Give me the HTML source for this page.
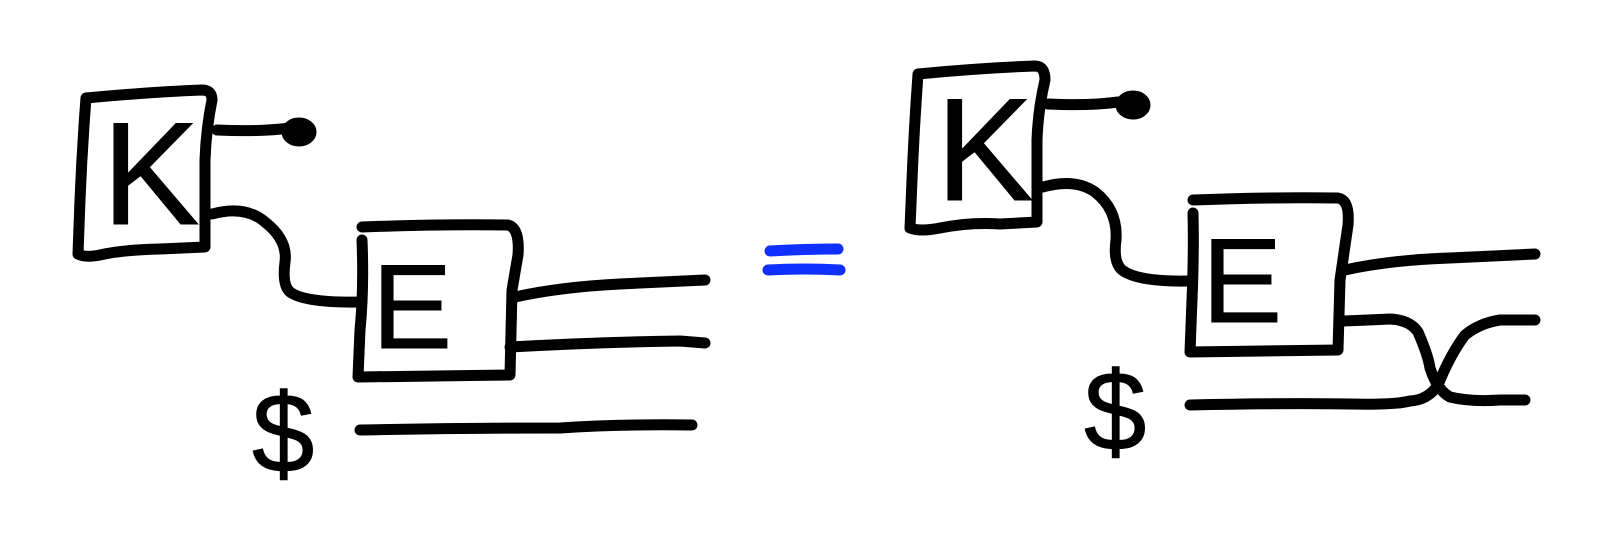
<!DOCTYPE html>
<html><head><meta charset="utf-8"><style>
html,body{margin:0;padding:0;background:#fff;}
svg{display:block;}
text{font-family:"Liberation Sans",sans-serif;fill:#000;stroke:#000;stroke-width:1;}
</style></head><body>
<svg width="1604" height="553" viewBox="0 0 1604 553">
<g fill="none" stroke="#000" stroke-width="11" stroke-linecap="round" stroke-linejoin="round">
<g>
  <path d="M86,98 Q82,150 80,200 L78,254 Q85,258 100,255 Q120,250 160,249 L205,247 L205,160 Q206,130 212,100 Q212,90 202,90 Q150,92 86,98"/>
  <path d="M217,130 Q260,132 290,128"/>
  <ellipse cx="299" cy="132" rx="12" ry="9" fill="#000"/>
  <path d="M212,214 Q245,205 265,222 Q288,240 285,262 Q282,285 290,292 Q305,303 360,302"/>
  <path d="M362,227 Q440,224 508,225 Q520,228 518,255 L512,290 L510,375 L358,377 L360,330 Q364,290 362,240"/>
  <path d="M515,297 Q560,287 620,284 L705,280"/>
  <path d="M510,347 Q600,342 680,341 L705,343"/>
  <path d="M360,430 Q460,428 560,428 Q620,424 692,425"/>
</g>
<g stroke="#1030ff">
  <path d="M770,251 Q805,249 838,249"/>
  <path d="M768,270 Q805,268 840,270"/>
</g>
<g>
  <path d="M918,74 Q914,130 912,180 L910,228 Q920,232 940,228 Q970,222 1000,224 L1037,222 L1037,140 Q1038,110 1045,80 Q1045,66 1035,66 Q980,68 918,74"/>
  <path d="M1048,104 Q1090,106 1118,102"/>
  <ellipse cx="1133" cy="105" rx="12" ry="9" fill="#000"/>
  <path d="M1043,187 Q1075,178 1095,192 Q1118,210 1116,240 Q1113,262 1122,270 Q1138,282 1188,281"/>
  <path d="M1193,200 Q1270,197 1338,198 Q1350,200 1348,225 L1340,280 L1338,350 L1190,352 L1192,300 Q1194,250 1193,213"/>
  <path d="M1345,270 Q1390,260 1450,258 L1535,254"/>
  <path d="M1343,321 Q1370,320 1390,319 Q1410,320 1418,332 Q1428,355 1430,368 Q1437,390 1450,397 Q1470,402 1500,400 L1525,400"/>
  <path d="M1190,405 Q1280,403 1350,404 Q1395,405 1410,401 Q1428,400 1438,385 Q1450,355 1465,335 Q1480,323 1500,320 L1535,320"/>
</g>
</g>
<text x="102" y="224" font-size="146">K</text>
<text x="372" y="348" font-size="120">E</text>
<text x="252" y="472" font-size="112">$</text>
<text x="936" y="200" font-size="146">K</text>
<text x="1202" y="322" font-size="120">E</text>
<text x="1084" y="450" font-size="112">$</text>
</svg>
</body></html>
